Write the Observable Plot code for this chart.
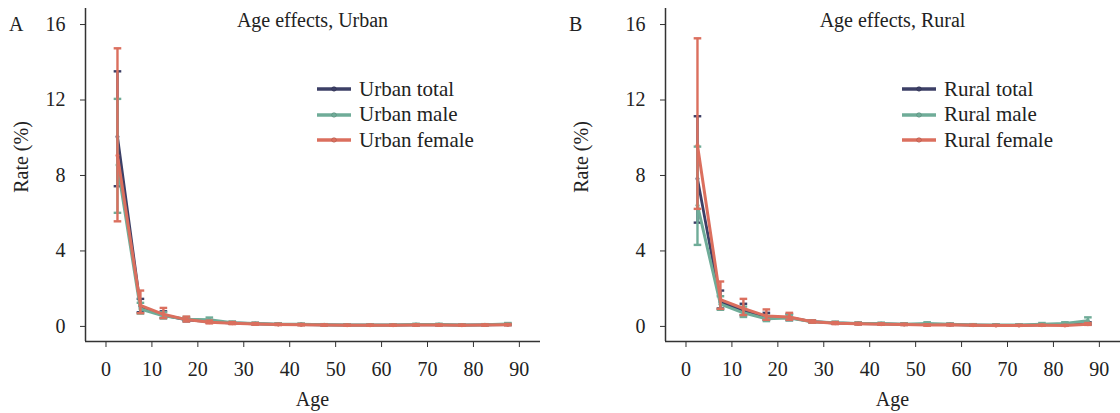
<!DOCTYPE html>
<html>
<head>
<meta charset="utf-8">
<script src="https://cdn.jsdelivr.net/npm/d3@7"></script>
<script src="https://cdn.jsdelivr.net/npm/@observablehq/plot@0.6"></script>
<style>
  html, body { margin: 0; padding: 0; background: #fff; }
  #wrap { position: relative; width: 1120px; height: 413px; overflow: hidden; font-family: "Liberation Serif", "Times New Roman", Times, "DejaVu Serif", serif; color: #222; }
  .panel { position: absolute; top: 0; }
  .panel text { font-family: "Liberation Serif", "Times New Roman", Times, "DejaVu Serif", serif; }
  .t { position: absolute; font-size: 20px; line-height: 1; white-space: nowrap; }
  .legend { position: absolute; font-size: 21px; }
  .legrow { position: absolute; left: 0; height: 24px; display: flex; align-items: center; white-space: nowrap; }
  .legrow svg { margin-right: 8px; }
</style>
</head>
<body>
<div id="wrap"></div>
<script>
// ---------- data ----------
const ages = [2.5, 7.5, 12.5, 17.5, 22.5, 27.5, 32.5, 37.5, 42.5, 47.5, 52.5, 57.5, 62.5, 67.5, 72.5, 77.5, 82.5, 87.5];
const xTicks = [0, 10, 20, 30, 40, 50, 60, 70, 80, 90];
const yTicks = [0, 4, 8, 12, 16];

const urbanTotal   = [10.05, 1.05, 0.60, 0.35, 0.26, 0.18, 0.14, 0.11, 0.10, 0.08, 0.07, 0.07, 0.07, 0.08, 0.08, 0.07, 0.08, 0.10];
const urbanTotalLo = [7.43, 0.75, 0.45, 0.27, 0.20, 0.14, 0.11, 0.09, 0.08, 0.06, 0.05, 0.05, 0.05, 0.06, 0.06, 0.05, 0.06, 0.07];
const urbanTotalHi = [13.52, 1.46, 0.80, 0.45, 0.33, 0.23, 0.18, 0.14, 0.12, 0.10, 0.09, 0.09, 0.09, 0.10, 0.10, 0.09, 0.10, 0.13];
const urbanMale    = [8.55, 0.92, 0.56, 0.38, 0.35, 0.20, 0.15, 0.12, 0.11, 0.09, 0.08, 0.08, 0.08, 0.10, 0.10, 0.08, 0.09, 0.13];
const urbanMaleLo  = [6.02, 0.68, 0.42, 0.29, 0.26, 0.15, 0.11, 0.09, 0.08, 0.07, 0.06, 0.06, 0.06, 0.07, 0.07, 0.06, 0.07, 0.09];
const urbanMaleHi  = [12.06, 1.25, 0.75, 0.50, 0.47, 0.26, 0.20, 0.16, 0.15, 0.12, 0.11, 0.11, 0.11, 0.14, 0.14, 0.11, 0.12, 0.18];
const urbanFemale   = [9.06, 1.12, 0.64, 0.36, 0.22, 0.17, 0.13, 0.10, 0.09, 0.07, 0.06, 0.06, 0.06, 0.07, 0.07, 0.06, 0.07, 0.09];
const urbanFemaleLo = [5.57, 0.70, 0.44, 0.26, 0.16, 0.12, 0.09, 0.07, 0.06, 0.05, 0.04, 0.04, 0.04, 0.05, 0.05, 0.04, 0.05, 0.06];
const urbanFemaleHi = [14.74, 1.90, 0.98, 0.52, 0.31, 0.23, 0.18, 0.14, 0.13, 0.10, 0.09, 0.09, 0.09, 0.10, 0.10, 0.09, 0.10, 0.13];

const ruralTotal   = [7.83, 1.30, 0.85, 0.50, 0.47, 0.25, 0.18, 0.15, 0.13, 0.11, 0.10, 0.10, 0.07, 0.06, 0.06, 0.08, 0.09, 0.15];
const ruralTotalLo = [5.50, 0.95, 0.60, 0.35, 0.33, 0.20, 0.14, 0.12, 0.10, 0.08, 0.07, 0.07, 0.05, 0.04, 0.04, 0.06, 0.06, 0.10];
const ruralTotalHi = [11.14, 1.90, 1.20, 0.72, 0.66, 0.31, 0.23, 0.19, 0.17, 0.15, 0.14, 0.14, 0.10, 0.09, 0.09, 0.11, 0.13, 0.22];
const ruralMale    = [6.42, 1.18, 0.72, 0.40, 0.45, 0.25, 0.19, 0.16, 0.15, 0.12, 0.15, 0.11, 0.08, 0.07, 0.07, 0.12, 0.15, 0.30];
const ruralMaleLo  = [4.32, 0.88, 0.50, 0.28, 0.32, 0.20, 0.14, 0.12, 0.11, 0.09, 0.10, 0.08, 0.05, 0.05, 0.05, 0.08, 0.10, 0.18];
const ruralMaleHi  = [9.53, 1.60, 1.05, 0.58, 0.62, 0.31, 0.25, 0.21, 0.20, 0.16, 0.22, 0.15, 0.12, 0.10, 0.10, 0.18, 0.22, 0.48];
const ruralFemale   = [9.60, 1.42, 0.95, 0.55, 0.50, 0.25, 0.17, 0.14, 0.12, 0.10, 0.07, 0.09, 0.06, 0.05, 0.05, 0.06, 0.05, 0.12];
const ruralFemaleLo = [6.23, 0.93, 0.60, 0.35, 0.35, 0.20, 0.12, 0.10, 0.09, 0.07, 0.04, 0.06, 0.04, 0.03, 0.03, 0.04, 0.03, 0.08];
const ruralFemaleHi = [15.27, 2.38, 1.46, 0.90, 0.72, 0.32, 0.23, 0.19, 0.16, 0.14, 0.11, 0.13, 0.09, 0.08, 0.08, 0.09, 0.08, 0.18];

const colTotal = "#3c3f66", colMale = "#6fac98", colFemale = "#db6f5e";
const fontStack = '"Liberation Serif", "Times New Roman", Times, "DejaVu Serif", serif';

// ---------- helpers ----------
const xDomain = [-4.46, 94.6];
const yDomain = [-0.8, 16.85];

const capSymbol = { draw(ctx, size) { const w = Math.sqrt(size / Math.PI); ctx.moveTo(-w, 0); ctx.lineTo(w, 0); } };

function rows(v, lo, hi) { return ages.map((a, i) => ({ age: a, v: v[i], lo: lo[i], hi: hi[i] })); }

function seriesMarks(data, color, lw) {
  return [
    Plot.ruleX(data, { x: "age", y1: "lo", y2: "hi", stroke: color, strokeWidth: 2.4 }),
    Plot.dot(data, { x: "age", y: "lo", symbol: capSymbol, r: 3.8, stroke: color, strokeWidth: 2.4 }),
    Plot.dot(data, { x: "age", y: "hi", symbol: capSymbol, r: 3.8, stroke: color, strokeWidth: 2.4 }),
    Plot.line(data, { x: "age", y: "v", stroke: color, strokeWidth: lw }),
    Plot.dot(data, { x: "age", y: "v", r: 2, fill: color })
  ];
}

function panel(series, mLeft, mRight) {
  return Plot.plot({
    width: 560, height: 413,
    marginLeft: mLeft, marginRight: mRight, marginTop: 8, marginBottom: 72,
    style: { fontFamily: fontStack, fontSize: "20px", color: "#222", background: "transparent", overflow: "visible" },
    x: { domain: xDomain },
    y: { domain: yDomain },
    marks: [
      Plot.axisX({ ticks: xTicks, tickSize: 6, tickPadding: 14, label: null, stroke: "#333", fontSize: 20 }),
      Plot.axisY({ ticks: yTicks, tickSize: 5, tickPadding: 15, label: null, stroke: "#333", fontSize: 20 }),
      Plot.ruleX([xDomain[0]], { stroke: "#333", strokeWidth: 1.5 }),
      Plot.ruleY([yDomain[0]], { stroke: "#333", strokeWidth: 1.5 }),
      ...series.flatMap(s => seriesMarks(s.data, s.color, s.lw))
    ]
  });
}

const wrap = document.getElementById("wrap");

function addText(txt, left, top, extra) {
  const d = document.createElement("div");
  d.className = "t";
  d.textContent = txt;
  d.style.left = left + "px";
  d.style.top = top + "px";
  if (extra) Object.assign(d.style, extra);
  wrap.appendChild(d);
  return d;
}

function legendBlock(items, left, top) {
  const lg = document.createElement("div");
  lg.className = "legend";
  lg.style.left = left + "px";
  lg.style.top = top + "px";
  items.forEach((it, i) => {
    const r = document.createElement("div");
    r.className = "legrow";
    r.style.top = (i * 25.5) + "px";
    r.innerHTML = `<svg width="34" height="10"><line x1="0" y1="5" x2="34" y2="5" stroke="${it.color}" stroke-width="3.4"/><circle cx="17" cy="5" r="2.4" fill="${it.color}" stroke="#0003" stroke-width="0.6"/></svg><span>${it.label}</span>`;
    lg.appendChild(r);
  });
  wrap.appendChild(lg);
}

function build(offset, mLeft, mRight, letter, title, series, legendLeft) {
  const svg = panel(series, mLeft, mRight);
  svg.classList.add("panel");
  svg.style.left = offset + "px";
  wrap.appendChild(svg);
  const plotLeft = offset + mLeft, plotRight = offset + 560 - mRight;
  const cx = (plotLeft + plotRight) / 2;
  addText(letter, offset + 9, 14);
  addText(title, cx, 10, { transform: "translateX(-50%)" });
  addText("Age", cx, 389, { transform: "translateX(-50%)" });
  addText("Rate (%)", offset + 21, 157, { transform: "translate(-50%,-50%) rotate(-90deg)" });
  legendBlock(series.map(s => ({ label: s.label, color: s.color })), legendLeft, 77);
}

build(0, 85, 20, "A", "Age effects, Urban", [
  { label: "Urban total", color: colTotal, lw: 2.8, data: rows(urbanTotal, urbanTotalLo, urbanTotalHi) },
  { label: "Urban male", color: colMale, lw: 3, data: rows(urbanMale, urbanMaleLo, urbanMaleHi) },
  { label: "Urban female", color: colFemale, lw: 3, data: rows(urbanFemale, urbanFemaleLo, urbanFemaleHi) }
], 317);

build(560, 105, 0, "B", "Age effects, Rural", [
  { label: "Rural total", color: colTotal, lw: 2.8, data: rows(ruralTotal, ruralTotalLo, ruralTotalHi) },
  { label: "Rural male", color: colMale, lw: 3, data: rows(ruralMale, ruralMaleLo, ruralMaleHi) },
  { label: "Rural female", color: colFemale, lw: 3, data: rows(ruralFemale, ruralFemaleLo, ruralFemaleHi) }
], 902);
</script>
</body>
</html>
